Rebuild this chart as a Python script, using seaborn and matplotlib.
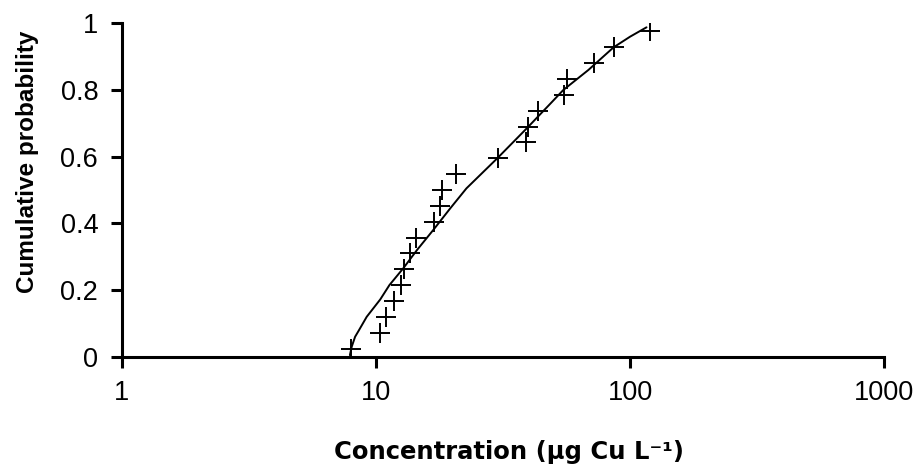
import matplotlib
matplotlib.use("Agg")
import matplotlib.pyplot as plt
import seaborn as sns
import pandas as pd

# observed data (concentration, cumulative probability)
obs_conc = [8.0, 10.4, 11.0, 11.8, 12.6, 12.9, 13.6, 14.4, 16.9, 17.9, 18.2,
            20.7, 30.1, 38.9, 39.6, 43.5, 55.0, 56.4, 72.1, 86.4, 119.8]
obs_prob = [0.022, 0.071, 0.119, 0.167, 0.214, 0.262, 0.310, 0.357, 0.405,
            0.452, 0.500, 0.548, 0.595, 0.643, 0.690, 0.738, 0.786, 0.833,
            0.881, 0.929, 0.976]

# fitted curve
fit_conc = [7.9, 8.03, 8.28, 8.55, 9.2, 10.4, 11.3, 12.8, 14.5, 16.8, 19.6,
            22.7, 26.5, 30.0, 39.2, 48.4, 54.6, 68.5, 86.1, 100.0, 116.0]
fit_prob = [0.005, 0.03, 0.06, 0.078, 0.12, 0.172, 0.215, 0.265, 0.32, 0.38,
            0.445, 0.505, 0.555, 0.595, 0.685, 0.758, 0.80, 0.86, 0.928,
            0.96, 0.988]

x_ticks = [1, 10, 100, 1000]
x_tick_labels = ["1", "10", "100", "1000"]
y_ticks = [0, 0.2, 0.4, 0.6, 0.8, 1.0]
y_tick_labels = ["0", "0.2", "0.4", "0.6", "0.8", "1"]

sns.set_theme(style="white")
plt.rcParams["font.family"] = ["Liberation Sans", "DejaVu Sans"]

df_obs = pd.DataFrame({"conc": obs_conc, "prob": obs_prob})
df_fit = pd.DataFrame({"conc": fit_conc, "prob": fit_prob})

fig = plt.figure(figsize=(9.16, 4.72), dpi=100)
ax = fig.add_axes([0.1329, 0.2441, 0.8325, 0.7065])

sns.lineplot(data=df_fit, x="conc", y="prob", ax=ax, color="black",
             linewidth=1.4, sort=False, estimator=None)
ax.plot(df_obs["conc"], df_obs["prob"], linestyle="none", marker="+",
        markersize=15, markeredgewidth=1.4, color="black")

ax.set_xscale("log")
ax.set_xlim(1, 1000)
ax.set_ylim(0, 1)
ax.set_xticks(x_ticks)
ax.set_xticklabels(x_tick_labels)
ax.set_yticks(y_ticks)
ax.set_yticklabels(y_tick_labels)
ax.minorticks_off()

for s in ["top", "right"]:
    ax.spines[s].set_visible(False)
for s in ["left", "bottom"]:
    ax.spines[s].set_linewidth(2.2)
    ax.spines[s].set_color("black")
ax.tick_params(axis="both", which="major", direction="out", length=8,
               width=2.2, color="black", labelsize=19.5, labelcolor="black",
               left=True, bottom=True)
ax.tick_params(axis="x", pad=9)
ax.tick_params(axis="y", pad=9)

ax.set_xlabel("Concentration (µg Cu L⁻¹)", fontsize=17.5,
              fontweight="bold", color="black",
              family=["DejaVu Sans"])
ax.xaxis.set_label_coords(0.508, -0.25)
ax.xaxis.label.set_va("top")
ax.set_ylabel("Cumulative probability", fontsize=17.5, fontweight="bold",
              color="black")
ax.yaxis.set_label_coords(-0.108, 0.586)
ax.grid(False)

fig.savefig("out.png", dpi=100, facecolor="white")
